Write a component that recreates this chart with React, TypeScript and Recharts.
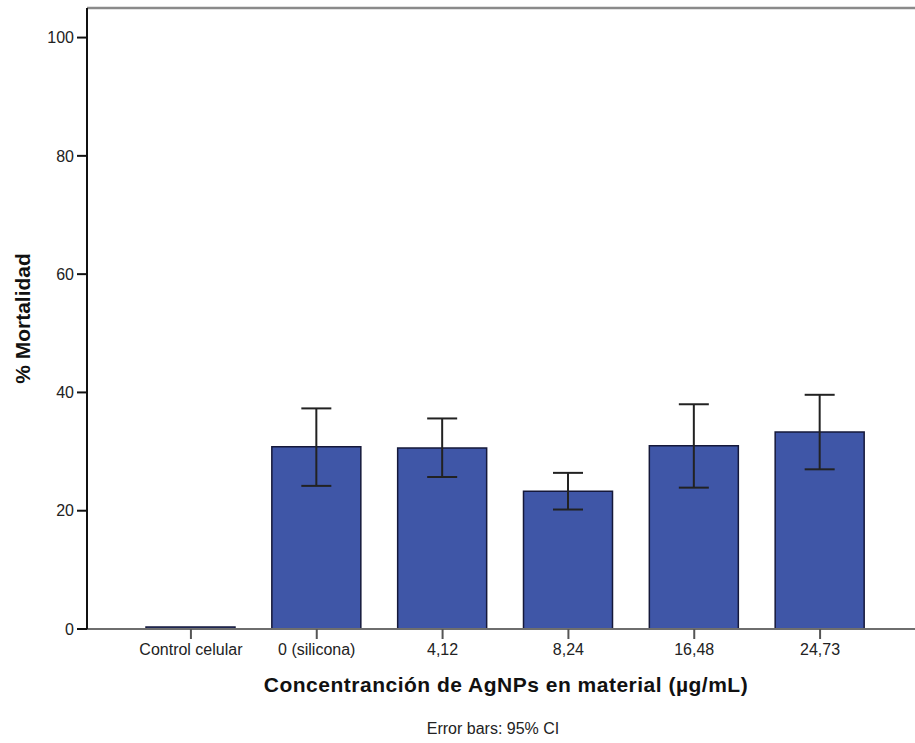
import React from "react";
import {
  BarChart,
  Bar,
  XAxis,
  YAxis,
  ErrorBar,
  ReferenceLine,
} from "recharts";

const categories = [
  "Control celular",
  "0 (silicona)",
  "4,12",
  "8,24",
  "16,48",
  "24,73",
];
const mortality = [0, 30.8, 30.6, 23.3, 31.0, 33.3];
const ciLow = [0, 24.2, 25.7, 20.2, 23.9, 27.0];
const ciHigh = [0, 37.3, 35.6, 26.4, 38.0, 39.6];
const yTicks = [0, 20, 40, 60, 80, 100];

const FONT = '"Liberation Sans", Arial, sans-serif';

const data = categories.map((name, i) => ({
  name,
  value: mortality[i],
  err: [mortality[i] - ciLow[i], ciHigh[i] - mortality[i]],
}));

const YTitle = (props: any) => {
  const vb = props.viewBox || {};
  return (
    <text
      x={22}
      y={vb.y + vb.height / 2}
      transform={`rotate(-90 22 ${vb.y + vb.height / 2})`}
      textAnchor="middle"
      dominantBaseline="central"
      fontFamily={FONT}
      fontWeight="bold"
      fontSize={21}
      fill="#111"
    >
      % Mortalidad
    </text>
  );
};

const XTitle = (props: any) => {
  const vb = props.viewBox || {};
  const cx = vb.x + vb.width / 2;
  return (
    <g>
      <text
        x={cx + 5}
        y={vb.y + 63}
        textAnchor="middle"
        fontFamily={FONT}
        fontWeight="bold"
        fontSize={21}
        letterSpacing={0.5}
        fill="#111"
      >
        Concentranción de AgNPs en material (µg/mL)
      </text>
      <text
        x={cx - 8}
        y={vb.y + 105}
        textAnchor="middle"
        fontFamily={FONT}
        fontSize={16}
        fill="#222"
      >
        Error bars: 95% CI
      </text>
    </g>
  );
};

export default function App() {
  return (
    <div style={{ position: "absolute", left: 0, top: 0, background: "#fff" }}>
      <BarChart
        width={915}
        height={743}
        data={data}
        margin={{ top: 8, right: 0, left: 0, bottom: 0 }}
      >
        <XAxis
          dataKey="name"
          height={114}
          padding={{ left: 41, right: 32 }}
          tickSize={10}
          tickMargin={5}
          axisLine={{ stroke: "#6e6e6e", strokeWidth: 2 }}
          tickLine={{ stroke: "#555", strokeWidth: 2 }}
          tick={{ fontFamily: FONT, fontSize: 16, fill: "#222" }}
          interval={0}
          label={<XTitle />}
        />
        <YAxis
          width={87}
          domain={[0, 105]}
          ticks={yTicks}
          tickSize={10}
          tickMargin={3}
          axisLine={{ stroke: "#111", strokeWidth: 2 }}
          tickLine={{ stroke: "#111", strokeWidth: 2 }}
          tick={{ fontFamily: FONT, fontSize: 16, fill: "#222" }}
          label={<YTitle />}
          allowDataOverflow
        />
        <ReferenceLine y={105} stroke="#8a8a8a" strokeWidth={2.5} />
        <Bar
          dataKey="value"
          fill="#3f56a7"
          stroke="#15183a"
          strokeWidth={1.5}
          barSize={89}
          minPointSize={2}
          isAnimationActive={false}
        >
          <ErrorBar
            dataKey="err"
            direction="y"
            width={15}
            stroke="#222"
            strokeWidth={2}
            isAnimationActive={false}
          />
        </Bar>
      </BarChart>
    </div>
  );
}
